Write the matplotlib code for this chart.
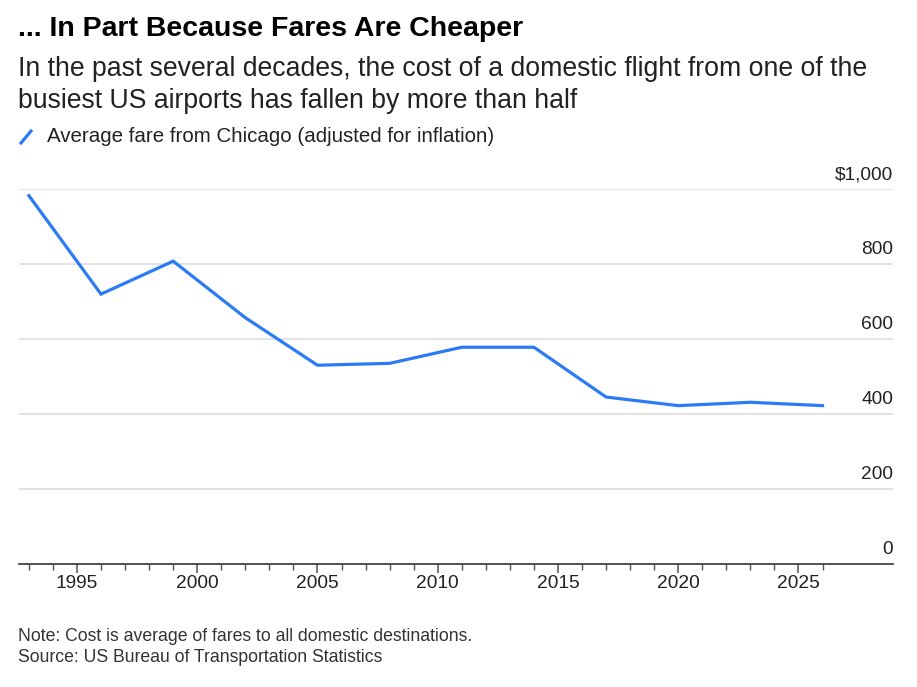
import matplotlib
matplotlib.use("Agg")
import matplotlib.pyplot as plt
from matplotlib.ticker import FixedLocator
import matplotlib.transforms as mtransforms

years = [1993, 1996, 1999, 2002, 2005, 2008, 2011, 2014, 2017, 2020, 2023, 2026]
fares = [983, 720, 808, 657, 530, 535, 578, 578, 445, 422, 431, 422]
x_major_ticks = [1995, 2000, 2005, 2010, 2015, 2020, 2025]
x_minor_ticks = list(range(1993, 2027))
y_ticks = [0, 200, 400, 600, 800, 1000]
y_tick_labels = ["0", "200", "400", "600", "800", "$1,000"]

title = "... In Part Because Fares Are Cheaper"
subtitle = "In the past several decades, the cost of a domestic flight from one of the\nbusiest US airports has fallen by more than half"
legend_label = "Average fare from Chicago (adjusted for inflation)"
note = "Note: Cost is average of fares to all domestic destinations.\nSource: US Bureau of Transportation Statistics"

BLUE = "#2b7bf5"
W, H = 917, 687
fig = plt.figure(figsize=(W / 100, H / 100), dpi=100)
fig.patch.set_facecolor("white")

sans = ["Liberation Sans", "DejaVu Sans"]

left_px, right_px = 19, 893
bottom_px, top_px = 563.6, 189.3
ax = fig.add_axes([left_px / W, 1 - bottom_px / H, (right_px - left_px) / W, (bottom_px - top_px) / H])
ax.set_xlim(1992.59, 2028.93)
ax.set_ylim(0, 1000)

ax.plot(years, fares, color=BLUE, lw=2.3, solid_joinstyle="miter", zorder=3, clip_on=False)

for s in ["top", "left", "right"]:
    ax.spines[s].set_visible(False)
ax.spines["bottom"].set_color("#333333")
ax.spines["bottom"].set_linewidth(1.2)

ax.set_yticks(y_ticks)
ax.set_yticklabels([])
ax.tick_params(axis="y", length=0)
for v in y_ticks[1:]:
    ax.axhline(v, color="#e3e3e3", lw=1.4, zorder=1)

trans = mtransforms.blended_transform_factory(ax.transAxes, ax.transData) + \
    mtransforms.ScaledTranslation(0, 6 / 100, fig.dpi_scale_trans)
for v, lab in zip(y_ticks, y_tick_labels):
    ax.text(1.0, v, lab, transform=trans, ha="right", va="bottom", fontsize=13.8,
            family=sans, color="#222222")

ax.xaxis.set_major_locator(FixedLocator(x_major_ticks))
ax.xaxis.set_minor_locator(FixedLocator(x_minor_ticks))
ax.set_xticklabels([str(y) for y in x_major_ticks])
ax.tick_params(axis="x", which="major", length=6.5, width=1.1, color="#555555", pad=2,
               labelsize=13.8, labelcolor="#222222")
ax.tick_params(axis="x", which="minor", length=4, width=1.0, color="#555555")
for lab in ax.get_xticklabels():
    lab.set_family(sans)

fig.text(18 / W, 1 - 29 / H, title, ha="left", va="center", fontsize=20.5, fontweight="bold",
         family=sans, color="#000000")
fig.text(18 / W, 1 - 85 / H, subtitle, ha="left", va="center", fontsize=19.2, family=sans,
         color="#222222", linespacing=1.33)
fig.add_artist(plt.Line2D([21 / W, 31 / W], [1 - 143 / H, 1 - 131 / H], color=BLUE, lw=2.3))
fig.text(47 / W, 1 - 137 / H, legend_label, ha="left", va="center", fontsize=14.8,
         family=sans, color="#222222")

fig.text(18 / W, 1 - 647 / H, note, ha="left", va="center", fontsize=12.7, family=sans,
         color="#333333", linespacing=1.24)

fig.savefig("out.png", dpi=100, facecolor="white")
